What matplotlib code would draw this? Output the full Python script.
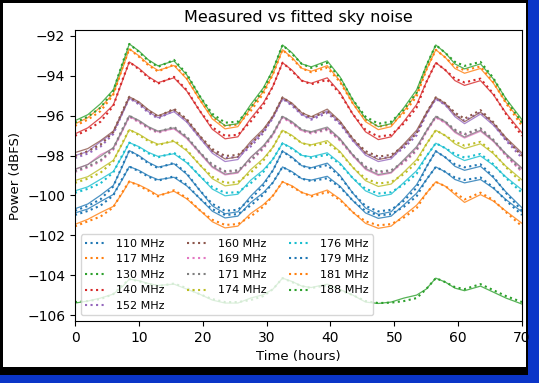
"""
Measured (dotted) vs fitted (solid) sky noise power for 13 frequencies.
"""

import matplotlib
matplotlib.use('Agg')
import matplotlib.pyplot as plt
from matplotlib.patches import Rectangle

# time axis shared by all curves (hours)
hours = [0, 2, 4, 6, 7.5, 8.5, 10, 11.5, 13, 15.5, 17.5, 19.5, 21.5, 23.5, 25.5, 27.5,
         29.5, 31, 32.5, 34, 35.5, 37, 39.5, 41.5, 43.5, 45.5, 47.5, 49.5, 51.5, 53.5,
         55, 56.5, 58, 59.5, 61, 63.5, 65.5, 67.5, 70]

freqs = [110, 117, 130, 140, 152, 160, 169, 171, 174, 176, 179, 181, 188]

# measured power (dBFS)
meas_110 = [-100.98, -100.78, -100.51, -100.0, -99.1, -98.55, -98.79, -99.06, -99.26, -99.04, -99.47, -100.14, -100.69, -100.98, -100.94, -100.51, -99.96, -99.35, -98.57, -98.86, -99.16, -99.28, -99.14, -99.59, -100.26, -100.78, -101.0, -100.94, -100.57, -100.04, -99.22, -98.57, -98.82, -99.1, -99.22, -99.1, -99.59, -100.26, -100.98]
meas_117 = [-96.51, -96.2, -95.77, -94.95, -93.53, -92.65, -93.04, -93.47, -93.78, -93.43, -94.11, -95.18, -96.06, -96.51, -96.45, -95.77, -94.89, -93.92, -92.69, -93.14, -93.62, -93.82, -93.59, -94.31, -95.38, -96.2, -96.55, -96.45, -95.87, -95.03, -93.72, -92.69, -93.08, -93.53, -93.72, -93.53, -94.31, -95.38, -96.51]
meas_130 = [-96.35, -96.05, -95.6, -94.75, -93.3, -92.4, -92.8, -93.25, -93.55, -93.2, -93.9, -95.0, -95.9, -96.35, -96.3, -95.6, -94.7, -93.7, -92.45, -92.9, -93.4, -93.6, -93.35, -94.1, -95.2, -96.05, -96.4, -96.3, -95.7, -94.85, -93.5, -92.45, -92.85, -93.3, -93.5, -93.3, -94.1, -95.2, -96.35]
meas_140 = [-97.01, -96.71, -96.3, -95.51, -94.14, -93.3, -93.67, -94.09, -94.39, -94.05, -94.71, -95.74, -96.58, -97.01, -96.96, -96.3, -95.46, -94.52, -93.34, -93.77, -94.24, -94.42, -94.2, -94.89, -95.92, -96.71, -97.05, -96.96, -96.39, -95.59, -94.33, -93.34, -93.71, -94.14, -94.33, -94.14, -94.89, -95.92, -97.01]
meas_152 = [-98.12, -97.9, -97.55, -96.92, -95.8, -95.12, -95.43, -95.85, -96.14, -95.74, -96.27, -97.1, -97.78, -98.12, -98.07, -97.55, -96.87, -96.1, -95.15, -95.5, -95.95, -96.2, -95.86, -96.42, -97.25, -97.88, -98.15, -98.07, -97.62, -96.98, -95.95, -95.15, -95.46, -95.95, -96.25, -95.82, -96.42, -97.25, -98.12]
meas_160 = [-98.02, -97.78, -97.45, -96.82, -95.72, -95.05, -95.35, -95.75, -96.05, -95.65, -96.17, -97.0, -97.67, -98.02, -97.97, -97.45, -96.77, -96.02, -95.08, -95.42, -95.85, -96.1, -95.77, -96.32, -97.15, -97.78, -98.05, -97.97, -97.52, -96.88, -95.87, -95.08, -95.38, -95.85, -96.15, -95.72, -96.32, -97.15, -98.02]
meas_169 = [-98.82, -98.6, -98.29, -97.7, -96.68, -96.05, -96.33, -96.64, -96.86, -96.61, -97.1, -97.87, -98.5, -98.82, -98.78, -98.29, -97.66, -96.96, -96.08, -96.4, -96.75, -96.89, -96.72, -97.24, -98.01, -98.6, -98.85, -98.78, -98.36, -97.76, -96.82, -96.08, -96.36, -96.75, -96.97, -96.68, -97.24, -98.01, -98.82]
meas_171 = [-98.78, -98.55, -98.24, -97.65, -96.62, -96.0, -96.28, -96.6, -96.82, -96.56, -97.05, -97.82, -98.45, -98.78, -98.74, -98.24, -97.6, -96.9, -96.03, -96.35, -96.7, -96.85, -96.67, -97.2, -97.96, -98.55, -98.8, -98.74, -98.3, -97.7, -96.77, -96.03, -96.3, -96.7, -96.92, -96.63, -97.2, -97.96, -98.78]
meas_174 = [-99.37, -99.16, -98.86, -98.29, -97.31, -96.7, -96.97, -97.27, -97.48, -97.24, -97.71, -98.45, -99.06, -99.37, -99.33, -98.86, -98.25, -97.58, -96.73, -97.04, -97.37, -97.51, -97.35, -97.85, -98.59, -99.16, -99.4, -99.33, -98.93, -98.35, -97.44, -96.73, -97.0, -97.31, -97.5, -97.31, -97.85, -98.59, -99.37]
meas_176 = [-99.87, -99.67, -99.39, -98.85, -97.92, -97.35, -97.6, -97.89, -98.09, -97.86, -98.31, -99.01, -99.58, -99.87, -99.84, -99.39, -98.82, -98.18, -97.38, -97.67, -97.99, -98.11, -97.96, -98.43, -99.13, -99.67, -99.9, -99.84, -99.45, -98.91, -98.05, -97.38, -97.63, -97.92, -98.1, -97.92, -98.43, -99.13, -99.87]
meas_179 = [-100.77, -100.53, -100.19, -99.55, -98.44, -97.75, -98.05, -98.39, -98.63, -98.36, -98.89, -99.73, -100.42, -100.77, -100.72, -100.19, -99.5, -98.74, -97.78, -98.13, -98.51, -98.66, -98.48, -99.05, -99.88, -100.53, -100.8, -100.72, -100.27, -99.61, -98.59, -97.78, -98.09, -98.44, -98.59, -98.44, -99.05, -99.88, -100.77]
meas_181 = [-101.55, -101.3, -101.06, -100.6, -99.79, -99.3, -99.52, -99.76, -100.05, -99.74, -100.12, -100.73, -101.22, -101.48, -101.44, -101.06, -100.56, -100.01, -99.32, -99.57, -99.85, -100.05, -99.83, -100.23, -100.84, -101.3, -101.5, -101.44, -101.11, -100.64, -99.9, -99.32, -99.54, -99.85, -100.2, -99.86, -100.23, -100.84, -101.55]
meas_188 = [-105.35, -105.3, -105.2, -104.95, -104.5, -104.2, -104.3, -104.45, -104.55, -104.42, -104.65, -104.95, -105.2, -105.35, -105.35, -105.25, -105.05, -104.7, -104.15, -104.35, -104.55, -104.65, -104.5, -104.75, -105.0, -105.3, -105.4, -105.38, -105.3, -105.15, -104.7, -104.15, -104.35, -104.6, -104.7, -104.45, -104.75, -105.05, -105.35]

# fitted model power (dBFS)
fit_110 = [-100.88, -100.68, -100.31, -99.95, -99.15, -98.55, -98.74, -99.01, -99.21, -99.09, -99.52, -100.14, -100.79, -101.13, -101.04, -100.36, -99.86, -99.35, -98.57, -98.81, -99.16, -99.23, -99.04, -99.54, -100.26, -100.88, -101.15, -101.04, -100.47, -99.89, -99.22, -98.57, -98.82, -99.2, -99.37, -99.2, -99.64, -100.21, -100.83]
fit_117 = [-96.41, -96.1, -95.57, -94.9, -93.58, -92.65, -92.99, -93.42, -93.73, -93.48, -94.16, -95.18, -96.16, -96.66, -96.55, -95.62, -94.79, -93.92, -92.69, -93.09, -93.62, -93.77, -93.49, -94.26, -95.38, -96.3, -96.7, -96.55, -95.77, -94.88, -93.72, -92.69, -93.08, -93.63, -93.87, -93.63, -94.36, -95.33, -96.36]
fit_130 = [-96.25, -95.95, -95.4, -94.7, -93.35, -92.4, -92.75, -93.2, -93.5, -93.25, -93.95, -95.0, -96.0, -96.5, -96.4, -95.45, -94.6, -93.7, -92.45, -92.85, -93.4, -93.55, -93.25, -94.05, -95.2, -96.15, -96.55, -96.4, -95.6, -94.7, -93.5, -92.45, -92.85, -93.4, -93.65, -93.4, -94.15, -95.15, -96.2]
fit_140 = [-96.91, -96.61, -96.1, -95.46, -94.19, -93.3, -93.62, -94.04, -94.34, -94.1, -94.76, -95.74, -96.68, -97.16, -97.06, -96.15, -95.36, -94.52, -93.34, -93.72, -94.24, -94.37, -94.1, -94.84, -95.92, -96.81, -97.2, -97.06, -96.29, -95.44, -94.33, -93.34, -93.71, -94.24, -94.48, -94.24, -94.94, -95.87, -96.86]
fit_152 = [-98.0, -97.8, -97.3, -96.85, -95.85, -95.12, -95.38, -95.8, -96.1, -95.8, -96.32, -97.1, -97.88, -98.3, -98.2, -97.4, -96.77, -96.1, -95.15, -95.45, -95.95, -96.15, -95.76, -96.37, -97.25, -97.98, -98.3, -98.17, -97.5, -96.83, -95.95, -95.15, -95.46, -96.05, -96.4, -95.92, -96.47, -97.2, -97.95]
fit_160 = [-97.85, -97.65, -97.25, -96.77, -95.77, -95.05, -95.3, -95.7, -96.0, -95.7, -96.22, -97.0, -97.77, -98.17, -98.07, -97.3, -96.67, -96.02, -95.08, -95.37, -95.85, -96.05, -95.67, -96.27, -97.15, -97.88, -98.2, -98.07, -97.42, -96.73, -95.87, -95.08, -95.38, -95.95, -96.3, -95.82, -96.37, -97.1, -97.87]
fit_169 = [-98.7, -98.45, -97.95, -97.65, -96.73, -96.05, -96.28, -96.59, -96.81, -96.66, -97.15, -97.87, -98.6, -98.97, -98.88, -98.1, -97.56, -96.96, -96.08, -96.35, -96.75, -96.84, -96.62, -97.19, -98.01, -98.7, -99.0, -98.88, -98.26, -97.61, -96.82, -96.08, -96.36, -96.85, -97.12, -96.78, -97.29, -97.96, -98.67]
fit_171 = [-98.68, -98.45, -98.04, -97.6, -96.67, -96.0, -96.23, -96.55, -96.77, -96.61, -97.1, -97.82, -98.55, -98.93, -98.84, -98.09, -97.5, -96.9, -96.03, -96.3, -96.7, -96.8, -96.57, -97.15, -97.96, -98.65, -98.95, -98.84, -98.2, -97.55, -96.77, -96.03, -96.3, -96.8, -97.07, -96.73, -97.25, -97.91, -98.63]
fit_174 = [-99.25, -99.06, -98.66, -98.24, -97.36, -96.7, -96.92, -97.22, -97.43, -97.29, -97.76, -98.45, -99.16, -99.52, -99.43, -98.71, -98.15, -97.58, -96.73, -96.99, -97.37, -97.46, -97.25, -97.8, -98.59, -99.26, -99.55, -99.43, -98.83, -98.2, -97.44, -96.73, -97.0, -97.41, -97.65, -97.41, -97.9, -98.54, -99.22]
fit_176 = [-99.77, -99.57, -99.19, -98.8, -97.97, -97.35, -97.55, -97.84, -98.04, -97.91, -98.36, -99.01, -99.68, -100.02, -99.94, -99.24, -98.72, -98.18, -97.38, -97.62, -97.99, -98.06, -97.86, -98.38, -99.13, -99.77, -100.05, -99.94, -99.35, -98.76, -98.05, -97.38, -97.63, -98.02, -98.25, -98.02, -98.48, -99.08, -99.72]
fit_179 = [-100.67, -100.43, -99.99, -99.5, -98.49, -97.75, -98.0, -98.34, -98.58, -98.41, -98.94, -99.73, -100.52, -100.92, -100.82, -100.04, -99.4, -98.74, -97.78, -98.08, -98.51, -98.61, -98.38, -99.0, -99.88, -100.63, -100.95, -100.82, -100.17, -99.46, -98.59, -97.78, -98.09, -98.54, -98.74, -98.54, -99.1, -99.83, -100.62]
fit_181 = [-101.45, -101.2, -100.86, -100.55, -99.84, -99.3, -99.47, -99.71, -100.0, -99.79, -100.17, -100.73, -101.32, -101.63, -101.54, -100.91, -100.46, -100.01, -99.32, -99.52, -99.85, -100.0, -99.73, -100.18, -100.84, -101.4, -101.65, -101.54, -101.01, -100.49, -99.9, -99.32, -99.54, -99.95, -100.35, -99.96, -100.28, -100.79, -101.4]
fit_188 = [-105.4, -105.3, -105.15, -104.95, -104.55, -104.2, -104.28, -104.42, -104.52, -104.45, -104.7, -104.95, -105.25, -105.4, -105.4, -105.15, -104.98, -104.7, -104.15, -104.32, -104.55, -104.62, -104.45, -104.72, -105.0, -105.35, -105.42, -105.35, -105.15, -105.0, -104.7, -104.15, -104.35, -104.65, -104.78, -104.55, -104.85, -105.15, -105.45]

measured = [meas_110, meas_117, meas_130, meas_140, meas_152, meas_160, meas_169,
            meas_171, meas_174, meas_176, meas_179, meas_181, meas_188]
fitted = [fit_110, fit_117, fit_130, fit_140, fit_152, fit_160, fit_169,
          fit_171, fit_174, fit_176, fit_179, fit_181, fit_188]

colors = plt.rcParams['axes.prop_cycle'].by_key()['color']

fig = plt.figure(figsize=(5.39, 3.83), dpi=100)
fig.patch.set_facecolor('#0b35c8')

# screenshot frame: black border, white page
W, H = 539.0, 383.0
fig.add_artist(Rectangle((0, 8 / H), 528 / W, 1 - 8 / H, transform=fig.transFigure,
                         facecolor='black', edgecolor='none', zorder=-20))
fig.add_artist(Rectangle((3 / W, 16 / H), 523 / W, 1 - 19 / H, transform=fig.transFigure,
                         facecolor='white', edgecolor='none', zorder=-10))

ax = fig.add_axes([75 / W, 1 - 321 / H, (522 - 75) / W, (321 - 30) / H])

for i, f in enumerate(freqs):
    c = colors[i % len(colors)]
    ax.plot(hours, measured[i], linestyle=':', color=c, lw=1.5, label='%d MHz' % f)
    ax.plot(hours, fitted[i], linestyle='-', color=c, lw=0.9, alpha=0.8)

ax.set_xlim(0, 70)
ax.set_ylim(-106.3, -91.7)
ax.set_yticks(range(-106, -91, 2))
ax.tick_params(labelsize=10)
ax.set_title('Measured vs fitted sky noise', fontsize=11.5)
ax.set_xlabel('Time (hours)', fontsize=9.5)
ax.set_ylabel('Power (dBFS)', fontsize=9.5)
ax.legend(loc='lower left', ncol=3, fontsize=8)

fig.savefig('out.png', dpi=100, facecolor=fig.get_facecolor())
